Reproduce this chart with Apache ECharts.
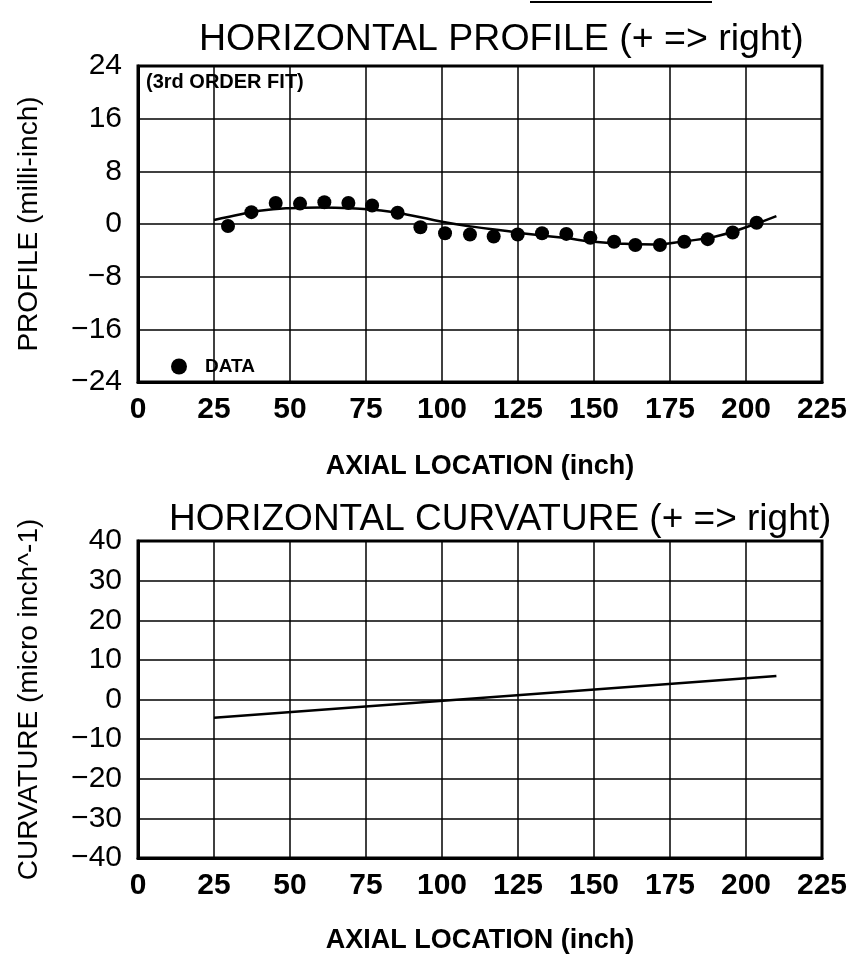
<!DOCTYPE html>
<html>
<head>
<meta charset="utf-8">
<script src="https://cdn.jsdelivr.net/npm/echarts@6/dist/echarts.min.js"></script>
<style>
  html, body { margin: 0; padding: 0; background: #fff; }
  #main { width: 853px; height: 956px; }
</style>
</head>
<body>
<div id="main"></div>
<script>
// measured profile points (milli-inch) vs axial location (inch)
var dataX = [29.6, 37.3, 45.3, 53.3, 61.3, 69.2, 77.0, 85.4, 92.9, 101.0, 109.2, 117.0, 124.9, 132.9, 140.9, 148.8, 156.6, 163.6, 171.7, 179.7, 187.4, 195.6, 203.5];
var dataY = [-0.3, 1.8, 3.2, 3.1, 3.3, 3.2, 2.8, 1.7, -0.5, -1.4, -1.6, -1.9, -1.6, -1.4, -1.5, -2.1, -2.7, -3.2, -3.2, -2.7, -2.3, -1.3, 0.2];

// 3rd order fit
var fitX = [25, 30, 40, 50, 60, 70, 80, 90, 100, 110, 120, 130, 140, 150, 160, 170, 180, 190, 200, 210];
var fitY = [0.6, 1.1, 2.0, 2.4, 2.5, 2.4, 2.05, 1.3, 0.35, -0.4, -1.0, -1.6, -2.1, -2.7, -3.0, -3.1, -2.6, -1.9, -0.5, 1.2];

// curvature line (micro inch^-1)
var curvX = [25, 210];
var curvY = [-4.6, 5.9];

var xMin = 0, xMax = 225, xStep = 25;
var profMin = -24, profMax = 24, profStep = 8;
var curvMin = -40, curvMax = 40, curvStep = 10;

var FONT = "'Liberation Sans', Arial, sans-serif";

function pairs(xs, ys) {
  var out = [];
  for (var i = 0; i < xs.length; i++) {
    out.push([xs[i], ys[i]]);
  }
  return out;
}

function minusFmt(v) {
  return String(v).replace('-', '\u2212');
}

function xAxisCfg(gridIndex, nameGap) {
  return {
    type: 'value',
    gridIndex: gridIndex,
    min: xMin,
    max: xMax,
    interval: xStep,
    name: 'AXIAL LOCATION (inch)',
    nameLocation: 'middle',
    nameGap: nameGap,
    nameTextStyle: { color: '#000', fontSize: 27, fontWeight: 'bold', fontFamily: FONT },
    axisLine: { show: true, onZero: false, lineStyle: { color: '#000', width: 3 } },
    axisTick: { show: false },
    axisLabel: { color: '#000', fontSize: 30, fontWeight: 'bold', fontFamily: FONT, margin: 13 },
    splitLine: { show: true, lineStyle: { color: '#000', width: 1.5 } }
  };
}

function yAxisCfg(gridIndex, name, min, max, step) {
  return {
    type: 'value',
    gridIndex: gridIndex,
    min: min,
    max: max,
    interval: step,
    name: name,
    nameLocation: 'middle',
    nameGap: 95,
    nameTextStyle: { color: '#000', fontSize: 28, fontFamily: FONT },
    axisLine: { show: true, onZero: false, lineStyle: { color: '#000', width: 3 } },
    axisTick: { show: false },
    axisLabel: { color: '#000', fontSize: 30, fontFamily: FONT, margin: 16, formatter: minusFmt },
    splitLine: { show: true, lineStyle: { color: '#000', width: 1.5 } }
  };
}

var chart = echarts.init(document.getElementById('main'));

chart.setOption({
  backgroundColor: '#fff',
  animation: false,
  title: [{
    text: 'HORIZONTAL PROFILE (+ => right)',
    left: 194,
    top: 16,
    textStyle: { color: '#000', fontSize: 37.5, fontWeight: 'normal', fontFamily: FONT }
  }, {
    text: 'HORIZONTAL CURVATURE (+ => right)',
    left: 164,
    top: 496,
    textStyle: { color: '#000', fontSize: 37, fontWeight: 'normal', fontFamily: FONT }
  }],
  legend: {
    data: ['DATA'],
    left: 166,
    top: 352,
    icon: 'circle',
    itemWidth: 16,
    itemHeight: 16,
    textStyle: { color: '#000', fontSize: 19, fontWeight: 'bold', fontFamily: FONT, padding: [0, 0, 0, 13] }
  },
  graphic: [{
    type: 'text',
    left: 146,
    top: 72,
    style: { text: '(3rd ORDER FIT)', fill: '#000', font: 'bold 20px ' + FONT }
  }, {
    type: 'line',
    shape: { x1: 530, y1: 2, x2: 712, y2: 2 },
    style: { stroke: '#000', lineWidth: 2 }
  }],
  grid: [
    { left: 138, top: 66, width: 684, height: 316, show: true, borderColor: '#000', borderWidth: 3, outerBoundsMode: 'none' },
    { left: 138, top: 541, width: 684, height: 317, show: true, borderColor: '#000', borderWidth: 3, outerBoundsMode: 'none' }
  ],
  xAxis: [xAxisCfg(0, 71), xAxisCfg(1, 69)],
  yAxis: [
    yAxisCfg(0, 'PROFILE (milli-inch)', profMin, profMax, profStep),
    yAxisCfg(1, 'CURVATURE (micro inch^-1)', curvMin, curvMax, curvStep)
  ],
  series: [{
    name: '3rd ORDER FIT',
    type: 'line',
    xAxisIndex: 0,
    yAxisIndex: 0,
    smooth: true,
    showSymbol: false,
    lineStyle: { color: '#000', width: 2.5 },
    data: pairs(fitX, fitY)
  }, {
    name: 'DATA',
    type: 'scatter',
    xAxisIndex: 0,
    yAxisIndex: 0,
    symbol: 'circle',
    symbolSize: 14,
    itemStyle: { color: '#000', opacity: 1 },
    data: pairs(dataX, dataY)
  }, {
    name: 'CURVATURE',
    type: 'line',
    xAxisIndex: 1,
    yAxisIndex: 1,
    showSymbol: false,
    lineStyle: { color: '#000', width: 2.5 },
    data: pairs(curvX, curvY)
  }]
});
</script>
</body>
</html>
